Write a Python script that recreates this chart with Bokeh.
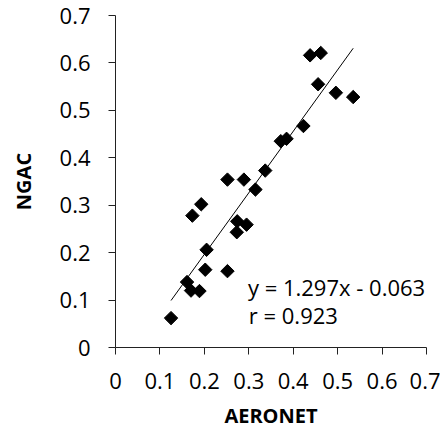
from bokeh.plotting import figure
from bokeh.models import Range1d, FixedTicker, Label, ColumnDataSource
from bokeh.embed import file_html
from bokeh.resources import INLINE
import math

# ---- data ----
aeronet = [0.438, 0.462, 0.456, 0.496, 0.535, 0.423, 0.372, 0.385, 0.337,
           0.252, 0.289, 0.315, 0.193, 0.173, 0.274, 0.295, 0.273, 0.205,
           0.202, 0.252, 0.161, 0.170, 0.189, 0.125]
ngac = [0.616, 0.621, 0.555, 0.537, 0.528, 0.467, 0.435, 0.440, 0.373,
        0.354, 0.354, 0.333, 0.302, 0.278, 0.266, 0.259, 0.243, 0.206,
        0.164, 0.161, 0.138, 0.120, 0.119, 0.062]
slope = 1.297
intercept = -0.063
r_value = 0.923
tick_values = [0, 0.1, 0.2, 0.3, 0.4, 0.5, 0.6, 0.7]
tick_labels = ["0", "0.1", "0.2", "0.3", "0.4", "0.5", "0.6", "0.7"]
x_title = "AERONET"
y_title = "NGAC"

FONT = "Open Sans"

p = figure(width=440, height=431, output_backend="svg", toolbar_location=None,
           x_range=Range1d(0, 0.7), y_range=Range1d(0, 0.7),
           min_border_left=115, min_border_right=14, min_border_top=15,
           min_border_bottom=84)
p.outline_line_color = None
p.xgrid.visible = False
p.ygrid.visible = False
p.background_fill_color = "white"
p.border_fill_color = "white"

overrides = {v: l for v, l in zip(tick_values, tick_labels)}
for ax in (p.xaxis[0], p.yaxis[0]):
    ax.ticker = FixedTicker(ticks=tick_values)
    ax.major_label_overrides = overrides
    ax.minor_tick_line_color = None
    ax.major_tick_in = 0
    ax.major_tick_out = 7
    ax.axis_line_color = "#222222"
    ax.major_tick_line_color = "#222222"
    ax.major_label_text_font = FONT
    ax.major_label_text_font_size = "22px"
    ax.major_label_text_color = "black"
    ax.major_label_text_line_height = 0.9
    ax.axis_label_text_font = FONT
    ax.axis_label_text_font_size = "20px"
    ax.axis_label_text_font_style = "bold"
    ax.axis_label_text_color = "black"
    ax.axis_label_text_line_height = 0.9

p.xaxis.axis_label = x_title
p.yaxis.axis_label = y_title
p.xaxis.major_label_standoff = 18
p.yaxis.major_label_standoff = 18
p.xaxis.axis_label_standoff = 10
p.yaxis.axis_label_standoff = 20

# trend line
x0 = min(aeronet)
x1 = max(aeronet)
p.line([x0, x1], [slope * x0 + intercept, slope * x1 + intercept],
       line_color="black", line_width=1)

src = ColumnDataSource(dict(x=aeronet, y=ngac))
p.scatter("x", "y", source=src, marker="square", size=9.5, angle=math.pi / 4,
          fill_color="black", line_color="black")

eq = f"y = {slope}x - {abs(intercept)}"
rt = f"r = {r_value}"
p.add_layout(Label(x=0.298, y=0.1266, text=eq, text_font=FONT,
                   text_font_size="22px", text_color="black",
                   text_baseline="alphabetic"))
p.add_layout(Label(x=0.300, y=0.0675, text=rt, text_font=FONT,
                   text_font_size="22px", text_color="black",
                   text_baseline="alphabetic"))

open("out.html", "w").write(file_html(p, INLINE))
